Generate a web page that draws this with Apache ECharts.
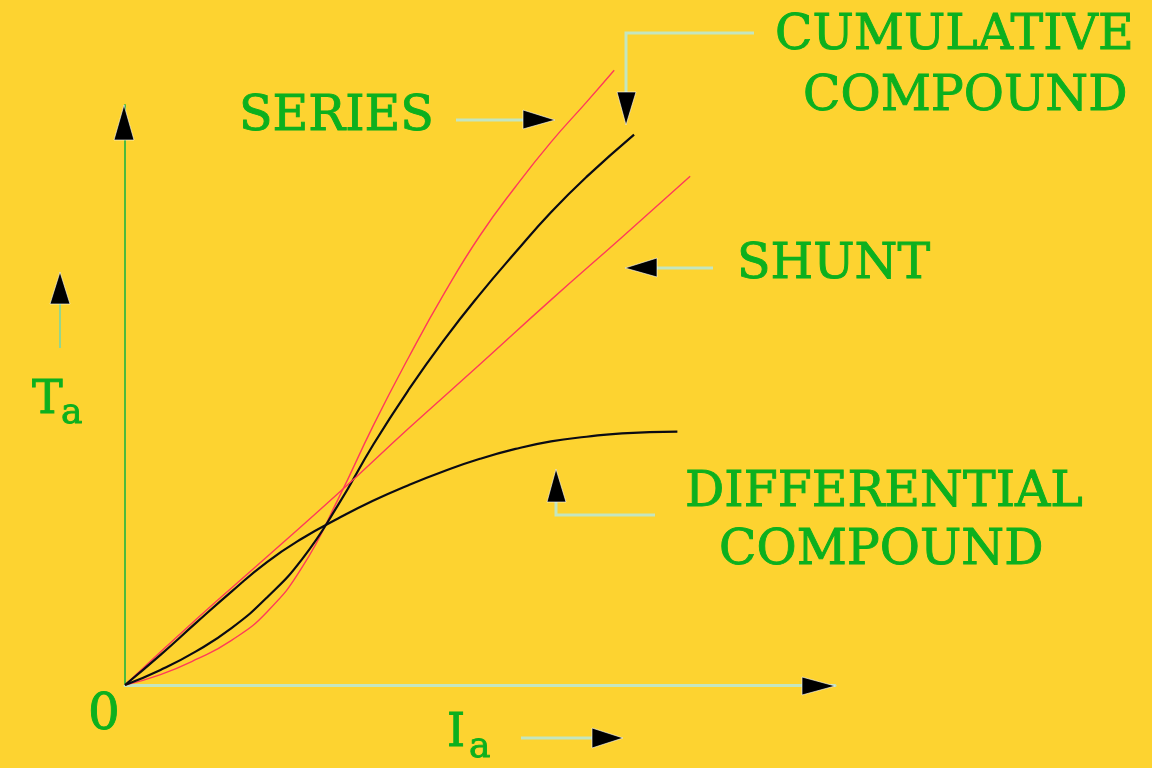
<!DOCTYPE html>
<html><head><meta charset="utf-8">
<script src="https://cdn.jsdelivr.net/npm/echarts@6/dist/echarts.min.js"></script>
<style>html,body{margin:0;padding:0;background:#fdd330;}#c{width:1152px;height:768px;}</style>
</head><body><div id="c"></div>
<script>
// Torque (Ta) vs armature current (Ia) characteristics, arbitrary units 0..100
const seriesMotor = [[0,0],[5,1.8],[10,4.4],[15,7.7],[20,12.6],[25,20.4],[30,32.0],[35,44.8],[40,56.6],[45,67.6],[50,77.5],[55,85.9],[60,93.6],[65,100.5],[68.9,106.0]];
const cumulativeCompound = [[0,0],[5,2.6],[10,5.8],[15,9.8],[20,15.1],[25,21.8],[30,31.0],[35,41.5],[40,51.0],[45,59.6],[50,67.4],[55,74.6],[60,81.5],[65,87.6],[71.7,94.9]];
const shuntMotor = [[0,0],[10,11.3],[20,22.1],[30,33.0],[40,44.3],[50,55.3],[60,66.4],[70,77.2],[79.6,87.7]];
const differentialCompound = [[0,0],[5,5.2],[10,10.7],[15,16.1],[20,21.2],[25,25.3],[30,28.7],[35,31.8],[40,34.5],[45,36.9],[50,39.0],[55,40.7],[60,42.0],[65,42.8],[70,43.4],[77.8,43.7]];
const labels = {series:'SERIES', cum1:'CUMULATIVE', cum2:'COMPOUND', shunt:'SHUNT', diff1:'DIFFERENTIAL', diff2:'COMPOUND'};

const GREEN = '#0cb01e';
const PALE = '#c3e6c0';
const FONT = '"DejaVu Serif", "Liberation Serif", serif';
const chart = echarts.init(document.getElementById('c'));

function txt(s, x, y, size){
  return {type:'text', x:x, y:y, z:100, style:{text:s, fill:GREEN, stroke:GREEN, lineWidth:0.9, font:'normal ' + size + 'px ' + FONT, textVerticalAlign:'middle', textAlign:'left'}};
}
function line(points, color, w){
  return {type:'polyline', z:90, shape:{points:points}, style:{stroke:color||PALE, lineWidth:w||3, fill:null}};
}
function tri(points){
  return {type:'polygon', z:95, shape:{points:points}, style:{fill:'#000', stroke:'#fff', lineWidth:0.6}};
}

const lineSeries = (name, data, color, width) => ({
  type:'line', name:name, data:data, smooth:0.5, showSymbol:false, clip:false,
  lineStyle:{color:color, width:width}, z: 5
});

chart.setOption({
  backgroundColor:'#fdd330',
  animation:false,
  grid:{left:125, right:317, top:105, bottom:83},
  xAxis:{type:'value', min:0, max:100, axisLabel:{show:false}, axisTick:{show:false}, splitLine:{show:false},
    axisLine:{show:true, onZero:false, lineStyle:{color:PALE, width:3}}},
  yAxis:{type:'value', min:0, max:100, axisLabel:{show:false}, axisTick:{show:false}, splitLine:{show:false},
    axisLine:{show:true, onZero:false, lineStyle:{color:'#4cbb3c', width:2}}},
  series:[
    lineSeries('Series', seriesMotor, '#ff3a5a', 1.4),
    lineSeries('Cumulative compound', cumulativeCompound, '#0b0b14', 2.2),
    lineSeries('Shunt', shuntMotor, '#ff3a5a', 1.4),
    lineSeries('Differential compound', differentialCompound, '#0b0b14', 2.2)
  ],
  graphic:[
    // axis arrowheads
    tri([[124,105],[114,140],[134,140]]),
    tri([[835,686],[802,677],[802,695]]),
    // axis titles
    txt('0', 88, 716, 50),
    txt('T', 32, 401, 46),
    txt('a', 61, 414, 36),
    txt('I', 447, 734, 46),
    txt('a', 469, 748, 36),
    line([[60,348],[60,303]], '#93d68e', 2), tri([[60,272],[50,304],[70,304]]),
    line([[521,738],[593,738]]), tri([[623,738],[592,728],[592,748]]),
    // curve labels
    txt(labels.series, 239, 117, 49),
    line([[456,120],[524,120]]), tri([[555,120],[523,110],[523,129]]),
    txt(labels.cum1, 775, 36, 49),
    txt(labels.cum2, 803, 97, 49),
    line([[754,33],[626,33],[626,93]]), tri([[626,125],[617,92],[636,92]]),
    txt(labels.shunt, 737, 265, 49),
    line([[713,268],[656,268]]), tri([[625,268],[657,258],[657,277]]),
    txt(labels.diff1, 685, 493, 49),
    txt(labels.diff2, 719, 551, 49),
    line([[655,515],[556,515],[556,501]]), tri([[556,469],[547,502],[566,502]])
  ]
});
</script></body></html>
